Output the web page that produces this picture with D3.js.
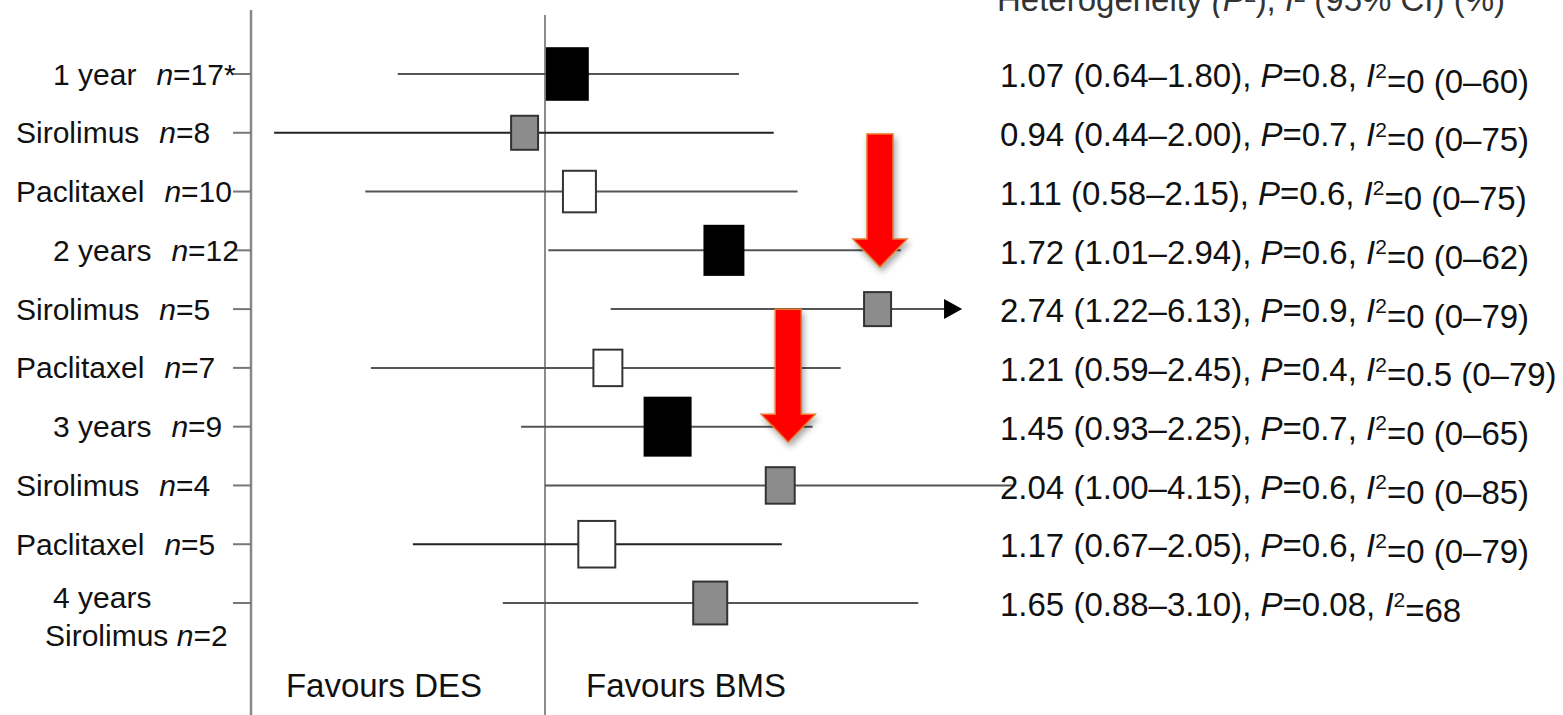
<!DOCTYPE html>
<html lang="en">
	<head>
		<meta charset="utf-8">
		<title>Forest plot</title>
        <script type="text/javascript" src="https://d3js.org/d3.v7.min.js"></script>
        <style>
            body { margin: 0; background-color: white; }
            text { font-family: "Liberation Sans", Arial, sans-serif; fill: #111; }
        </style>
    </head>

    <body>
		<script type="text/javascript">
            "use strict";

            //data
            let labels = ["1 year", "Sirolimus", "Paclitaxel", "2 years", "Sirolimus", "Paclitaxel", "3 years", "Sirolimus", "Paclitaxel", "4 years"];
            let nLabels = ["n=17*", "n=8", "n=10", "n=12", "n=5", "n=7", "n=9", "n=4", "n=5", "n=2"];
            let group = ["all", "sir", "pac", "all", "sir", "pac", "all", "sir", "pac", "sir"];
            let est = [1.07, 0.94, 1.11, 1.72, 2.74, 1.21, 1.45, 2.04, 1.17, 1.65];
            let lower = [0.64, 0.44, 0.58, 1.01, 1.22, 0.59, 0.93, 1.00, 0.67, 0.88];
            let upper = [1.80, 2.00, 2.15, 2.94, 6.13, 2.45, 2.25, 4.15, 2.05, 3.10];
            let weight = [16.8, 7.3, 10.9, 15.2, 7.3, 8.4, 21.2, 8.4, 13.7, 11.6];
            let pValues = ["0.8", "0.7", "0.6", "0.6", "0.9", "0.4", "0.7", "0.6", "0.6", "0.08"];
            let i2Values = ["0", "0", "0", "0", "0", "0.5", "0", "0", "0", "68"];
            let i2Ranges = ["0–60", "0–75", "0–75", "0–62", "0–79", "0–79", "0–65", "0–85", "0–79", null];
            let clipped = [false, false, false, false, true, false, false, false, false, false];
            let xMax = 3.54;
            //red arrows: row they point at and where
            let arrowRows = [4, 7];
            let arrowAt = [2.76, 2.09];

            let w = 1563;
            let h = 715;

            let svg = d3.select("body")
                        .append("svg")
                        .attr("width", w)
                        .attr("height", h);

            //scales
            let x = d3.scaleLog().domain([0.5, 2]).range([316.3, 773.7]);
            let y = d3.scalePoint().domain(d3.range(labels.length)).range([74, 603]);
            let size = d3.scaleSqrt().domain([0, 21.2]).range([0, 46]);
            let fills = {"all": "#000", "sir": "#8c8c8c", "pac": "#fff"};

            let rows = labels.map(function(d, i) { return i; });

            function isYear(d) { return labels[d].indexOf("year") >= 0; }

            //drop shadow for the arrows
            let defs = svg.append("defs");
            defs.append("filter")
                .attr("id", "shadow")
                .attr("x", "-50%").attr("y", "-20%")
                .attr("width", "200%").attr("height", "150%")
              .append("feDropShadow")
                .attr("dx", 2).attr("dy", 4)
                .attr("stdDeviation", 3)
                .attr("flood-opacity", 0.35);

            //left axis and tick marks
            svg.append("line")
                .attr("x1", 251).attr("x2", 251)
                .attr("y1", 10).attr("y2", h)
                .style("stroke", "#888")
                .style("stroke-width", 2.5);

            svg.selectAll(".tick")
                .data(rows)
                .enter()
                .append("line")
                .attr("x1", 233).attr("x2", 251)
                .attr("y1", function(d) { return y(d); })
                .attr("y2", function(d) { return y(d); })
                .style("stroke", "#777")
                .style("stroke-width", 2);

            //line of no effect
            svg.append("line")
                .attr("x1", x(1)).attr("x2", x(1))
                .attr("y1", 15).attr("y2", h)
                .style("stroke", "#666")
                .style("stroke-width", 1.5);

            //row labels
            let lab = svg.selectAll(".lab")
                .data(rows)
                .enter()
                .append("text")
                .attr("x", function(d) { return isYear(d) ? 53 : 16; })
                .attr("y", function(d) { return d == 9 ? y(d) - 6 : y(d); })
                .attr("dy", "0.35em")
                .style("font-size", "30px");
            lab.append("tspan")
                .text(function(d) { return labels[d]; });
            lab.filter(function(d) { return d != 9; })
                .append("tspan")
                .attr("dx", 20)
                .call(nPart);

            //second line of the last label
            let last = svg.append("text")
                .attr("x", 45)
                .attr("y", y(9) + 32)
                .attr("dy", "0.35em")
                .style("font-size", "30px");
            last.append("tspan").text("Sirolimus ");
            last.append("tspan").datum(9).call(nPart);

            function nPart(sel) {
                sel.each(function(d) {
                    let t = d3.select(this);
                    t.append("tspan").style("font-style", "italic").text("n");
                    t.append("tspan").text(nLabels[d].slice(1));
                });
            }

            //confidence intervals
            svg.selectAll(".ci")
                .data(rows)
                .enter()
                .append("line")
                .attr("x1", function(d) { return x(lower[d]); })
                .attr("x2", function(d) { return x(clipped[d] ? xMax : upper[d]) - (clipped[d] ? 15 : 0); })
                .attr("y1", function(d) { return y(d); })
                .attr("y2", function(d) { return y(d); })
                .style("stroke", function(d) { return (d == 1 || d == 8) ? "#222" : "#555"; })
                .style("stroke-width", 2);

            //arrow heads on truncated intervals
            svg.selectAll(".trunc")
                .data(rows.filter(function(d) { return clipped[d]; }))
                .enter()
                .append("path")
                .attr("d", function(d) {
                    let tx = x(xMax), ty = y(d);
                    return "M" + tx + "," + ty + "L" + (tx - 18) + "," + (ty - 10) + "L" + (tx - 18) + "," + (ty + 10) + "Z";
                })
                .style("fill", "#000");

            //boxes
            svg.selectAll(".box")
                .data(rows)
                .enter()
                .append("rect")
                .attr("x", function(d) { return x(est[d]) - size(weight[d]) / 2; })
                .attr("y", function(d) { return y(d) - size(weight[d]) * 1.26 / 2; })
                .attr("width", function(d) { return size(weight[d]); })
                .attr("height", function(d) { return size(weight[d]) * 1.26; })
                .style("fill", function(d) { return fills[group[d]]; })
                .style("stroke", function(d) { return group[d] == "all" ? "#000" : "#333"; })
                .style("stroke-width", 2);

            //heading, cut off by the top edge as in the source
            let head = svg.append("text")
                .attr("x", 997)
                .attr("y", 11)
                .style("font-size", "33px")
                .style("fill", "#333");
            head.append("tspan").text("Heterogeneity ");
            head.append("tspan").style("font-style", "italic").text("(P");
            head.append("tspan").text("²), ");
            head.append("tspan").style("font-style", "italic").text("I");
            head.append("tspan").text("² (95% CI) (%)");

            //estimate and heterogeneity text
            let stats = svg.selectAll(".stat")
                .data(rows)
                .enter()
                .append("text")
                .attr("x", 1000)
                .attr("y", function(d) { return y(d); })
                .attr("dy", "0.4em")
                .style("font-size", "33px");
            stats.append("tspan")
                .text(function(d) {
                    return est[d].toFixed(2) + " (" + lower[d].toFixed(2) + "–" + upper[d].toFixed(2) + "), ";
                });
            stats.append("tspan").style("font-style", "italic").text("P");
            stats.append("tspan").text(function(d) { return "=" + pValues[d] + ", "; });
            stats.append("tspan").style("font-style", "italic").text("I");
            stats.append("tspan")
                .attr("dy", "-0.45em")
                .style("font-size", "21px")
                .text("2");
            stats.append("tspan")
                .attr("dy", "0.45em")
                .text(function(d) {
                    return "=" + i2Values[d] + (i2Ranges[d] ? " (" + i2Ranges[d] + ")" : "");
                });

            //bottom labels
            svg.append("text")
                .attr("x", (x(1) + 251) / 2 - 14)
                .attr("y", 697)
                .attr("text-anchor", "middle")
                .style("font-size", "33px")
                .text("Favours DES");
            svg.append("text")
                .attr("x", x(1) + 141)
                .attr("y", 697)
                .attr("text-anchor", "middle")
                .style("font-size", "33px")
                .text("Favours BMS");

            //red annotation arrows, tip just above the box they point at
            svg.selectAll(".red")
                .data(arrowRows)
                .enter()
                .append("path")
                .attr("d", function(d, i) {
                    let tx = x(arrowAt[i]);
                    let ty = y(d) - size(weight[d]) * 1.26 / 2 - 25;
                    return "M" + (tx - 13) + "," + (ty - 133) +
                           "L" + (tx + 13) + "," + (ty - 133) +
                           "L" + (tx + 13) + "," + (ty - 28) +
                           "L" + (tx + 27) + "," + (ty - 28) +
                           "L" + tx + "," + ty +
                           "L" + (tx - 27) + "," + (ty - 28) +
                           "L" + (tx - 13) + "," + (ty - 28) + "Z";
                })
                .style("fill", "#ff0000")
                .style("stroke", "#e8782e")
                .style("stroke-width", 1.5)
                .attr("filter", "url(#shadow)");
		</script>
	</body>
</html>
